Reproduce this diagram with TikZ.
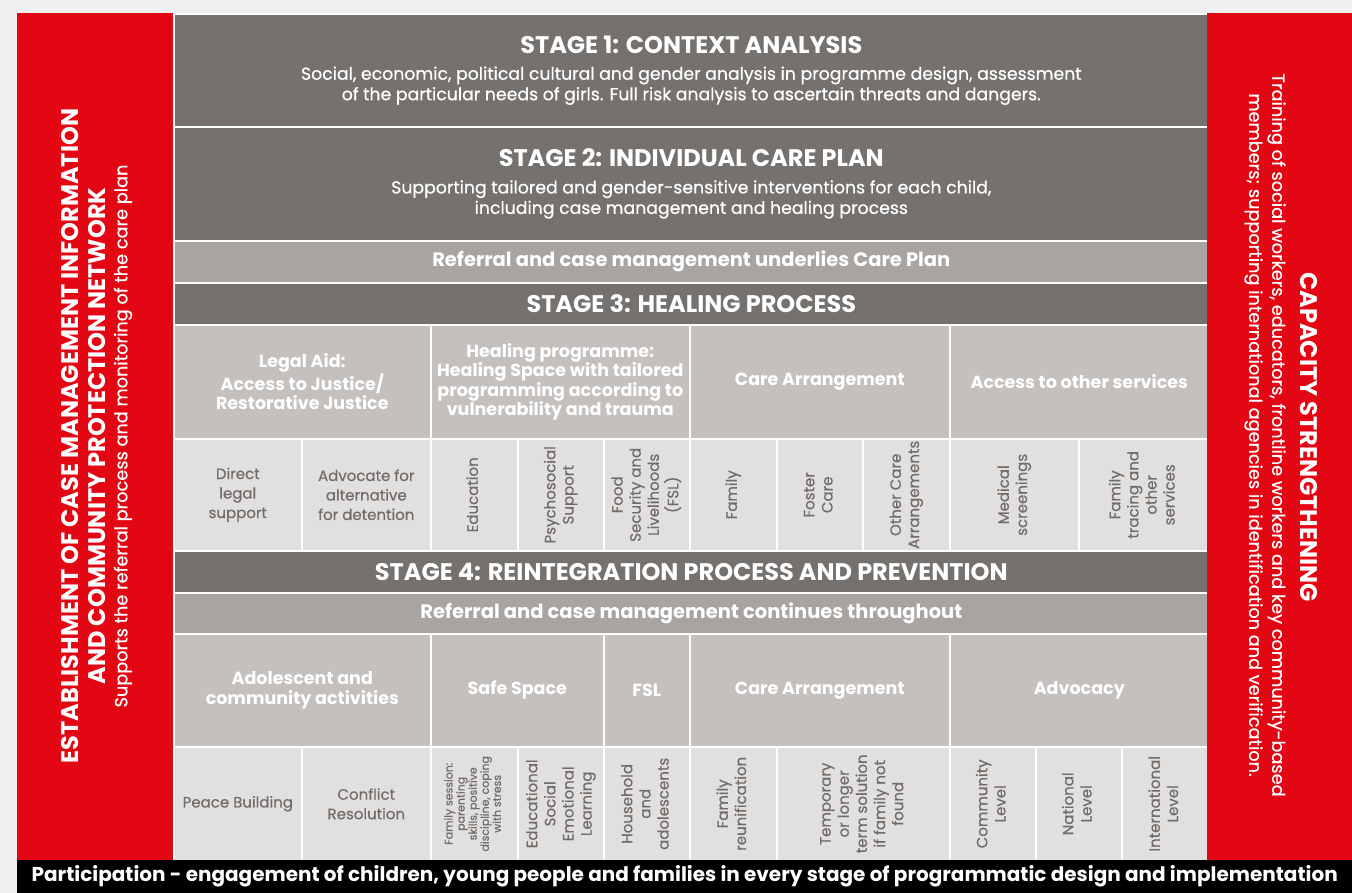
\documentclass[tikz,border=0pt]{standalone}
\usepackage{fontspec}
\setmainfont{Poppins}[UprightFeatures={FakeBold=0.5}]
\definecolor{stagegray}{RGB}{117,113,110}
\definecolor{refgray}{RGB}{168,164,162}
\definecolor{catgray}{RGB}{196,192,190}
\definecolor{itemgray}{RGB}{225,224,223}
\definecolor{itemtext}{RGB}{112,108,106}
\definecolor{barred}{RGB}{227,6,19}
\definecolor{pagegray}{RGB}{239,239,239}
\newcommand\stitle{\bfseries\fontsize{24}{26}\selectfont}
\newcommand\vtext[2][]{\rotatebox{90}{#1\renewcommand\arraystretch{0.93}\begin{tabular}{@{}c@{}}#2\end{tabular}}}

\begin{document}
\begin{tikzpicture}[
x=1pt,
y=-1pt,
cell/.style={%
anchor=north west,
inner sep=0pt,
draw=white,
line width=1.6pt,
align=center,
},
stage/.style={%
cell,
fill=stagegray,
text=white,
minimum width=1035,
font=\fontsize{17.3}{20.5}\selectfont,
},
refer/.style={%
cell,
fill=refgray,
text=white,
minimum width=1035,
minimum height=42,
font=\bfseries\fontsize{19.5}{21}\selectfont,
},
cat/.style={%
cell,
fill=catgray,
text=white,
font=\bfseries\fontsize{17.5}{19.5}\selectfont,
},
item/.style={%
cell,
fill=itemgray,
text=itemtext,
font=\fontsize{15}{19.5}\selectfont,
},
bar/.style={%
anchor=north west,
inner sep=0pt,
fill=barred,
minimum width=156,
minimum height=847,
},
sidetitle/.style={%
text=white,
align=center,
font=\bfseries\fontsize{24}{27}\selectfont,
},
sidesub/.style={%
text=white,
align=center,
font=\fontsize{17.7}{23}\selectfont,
},
]
\useasboundingbox[fill=pagegray](0,0)rectangle(1352,893);
%% Stages 1 and 2
\node[stage,minimum height=113]at(173,13)(s1){{\stitle STAGE 1: CONTEXT ANALYSIS}\\[6pt]Social, economic, political cultural and gender analysis in programme design, assessment\\of the particular needs of girls. Full risk analysis to ascertain threats and dangers.};
\node[stage,minimum height=114]at(173,126)(s2){{\stitle STAGE 2: INDIVIDUAL CARE PLAN}\\[6pt]Supporting tailored and gender-sensitive interventions for each child,\\including case management and healing process};
\node[refer]at(173,240)(r1){Referral and case management underlies Care Plan};
%% Stage 3
\node[stage,minimum height=42]at(173,282)(s3){\stitle STAGE 3: HEALING PROCESS};
\foreach \x/\w/\t [count=\i] in {%
173/257/{Legal Aid:\\Access to Justice/\\Restorative Justice},
430/259/{Healing programme:\\Healing Space with tailored\\programming according to\\vulnerability and trauma},
689/260/{Care Arrangement},
949/259/{Access to other services}}{%
\node[cat,minimum width=\w,minimum height=114]at(\x,324)(c3_\i){\t};
}
\foreach \x/\w/\t [count=\i] in {%
173/128/{Direct\\legal\\support},
301/129/{Advocate for\\alternative\\for detention},
430/87/{\vtext{Education}},
517/86/{\vtext{Psychosocial\\Support}},
603/86/{\vtext{Food\\Security and\\Livelihoods\\(FSL)}},
689/87/{\vtext{Family}},
776/86/{\vtext{Foster\\Care}},
862/87/{\vtext{Other Care\\Arrangements}},
949/129/{\vtext{Medical\\screenings}},
1078/130/{\vtext{Family\\tracing and\\other\\services}}}{%
\node[item,minimum width=\w,minimum height=112]at(\x,438)(i3_\i){\t};
}
%% Stage 4
\node[stage,minimum height=42]at(173,550)(s4){\stitle STAGE 4: REINTEGRATION PROCESS AND PREVENTION};
\node[refer,minimum height=41]at(173,592)(r2){Referral and case management continues throughout};
\foreach \x/\w/\t [count=\i] in {%
173/257/{Adolescent and\\community activities},
430/173/{Safe Space},
603/86/{FSL},
689/260/{Care Arrangement},
949/259/{Advocacy}}{%
\node[cat,minimum width=\w,minimum height=113]at(\x,633)(c4_\i){\t};
}
\foreach \x/\w/\t [count=\i] in {%
173/128/{Peace Building},
301/129/{Conflict\\Resolution},
430/87/{\vtext[\fontsize{11}{13}\selectfont]{Family session:\\parenting\\skills, positive\\discipline, coping\\with stress}},
517/86/{\vtext{Educational\\Social\\Emotional\\Learning}},
603/86/{\vtext{Household\\and\\adolescents}},
689/87/{\vtext{Family\\reunification}},
776/173/{\vtext{Temporary\\or longer\\term solution\\if family not\\found}},
949/86/{\vtext{Community\\Level}},
1035/86/{\vtext{National\\Level}},
1121/87/{\vtext{International\\Level}}}{%
\node[item,minimum width=\w,minimum height=114]at(\x,746)(i4_\i){\t};
}
%% Side bars
\node[bar]at(17,13)(lbar){};
\node[bar,minimum width=145]at(1207,13)(rbar){};
\node[sidetitle,rotate=90]at(84,436)(ltitle){ESTABLISHMENT OF CASE MANAGEMENT INFORMATION\\AND COMMUNITY PROTECTION NETWORK};
\node[sidesub,rotate=90]at(123,436)(lsub){Supports the referral process and monitoring of the care plan};
\node[sidetitle,rotate=-90]at(1309,437)(rtitle){CAPACITY STRENGTHENING};
\node[sidesub,rotate=-90]at(1265,435)(rsub){Training of social workers, educators, frontline workers and key community-based\\members; supporting international agencies in identification and verification.};
%% Bottom bar
\node[anchor=north west,inner sep=0pt,fill=black,minimum width=1335,minimum height=33,text=white,font=\bfseries\fontsize{20}{22}\selectfont]at(17,860)(bbar){Participation - engagement of children, young people and families in every stage of programmatic design and implementation};
\end{tikzpicture}
\end{document}
